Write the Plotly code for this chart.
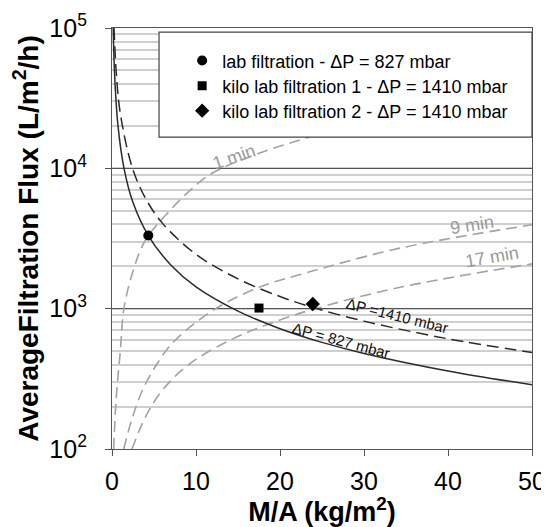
import plotly.graph_objects as go

# ---- data ----
dp827_x = [0.144, 0.3, 0.7, 1.43, 2.5, 4.32, 7.0, 10.0, 15.0, 20.0, 25.0, 30.0, 40.0, 50.0]
dp827_y = [100000, 48000, 20500, 10000, 5700, 3320, 2050, 1430, 960, 720, 575, 480, 360, 287]

dp1410_x = [0.24, 0.5, 1.0, 2.44, 4.0, 6.0, 10.0, 15.0, 20.0, 23.9, 30.0, 40.0, 50.0]
dp1410_y = [100000, 49000, 24400, 10000, 6100, 4070, 2440, 1630, 1220, 1020, 815, 610, 488]

min1_x = [0.2, 0.48, 0.99, 1.42, 2.5, 3.96, 6.75, 9.5, 12.0, 17.5, 21.0, 30.0, 50.0]
min1_y = [100, 220, 500, 1000, 1850, 3060, 4900, 7150, 9300, 12800, 15000, 21500, 36000]

min9_x = [1.39, 2.4, 3.6, 5.2, 7.2, 12.0, 17.5, 22.4, 34.3, 50.0]
min9_y = [100, 165, 260, 390, 570, 970, 1420, 1750, 2700, 3960]

min17_x = [2.38, 3.96, 5.95, 9.13, 13.9, 17.86, 23.4, 34.3, 50.0]
min17_y = [100, 168, 260, 400, 590, 745, 968, 1420, 2085]

lab_x, lab_y = [4.32], [3320]
kilo1_x, kilo1_y = [17.5], [1010]
kilo2_x, kilo2_y = [23.9], [1080]

legend_names = ["lab filtration - \u0394P = 827 mbar",
                "kilo lab filtration 1 - \u0394P = 1410 mbar",
                "kilo lab filtration 2 - \u0394P = 1410 mbar"]

FONT = "Liberation Sans, Arial, sans-serif"
GRAY = "#a3a3a3"
DARK = "#2b2b2b"

fig = go.Figure()

for xs, ys in [(min1_x, min1_y), (min9_x, min9_y), (min17_x, min17_y)]:
    fig.add_trace(go.Scatter(x=xs, y=ys, mode="lines", showlegend=False,
                             line=dict(color=GRAY, width=1.6, dash="11px,6px", shape="spline"),
                             hoverinfo="skip"))

fig.add_trace(go.Scatter(x=dp827_x, y=dp827_y, mode="lines", showlegend=False,
                         line=dict(color=DARK, width=1.5, shape="spline")))
fig.add_trace(go.Scatter(x=dp1410_x, y=dp1410_y, mode="lines", showlegend=False,
                         line=dict(color=DARK, width=1.5, dash="12px,6px", shape="spline")))

fig.add_trace(go.Scatter(x=lab_x, y=lab_y, mode="markers", name=legend_names[0], legend="legend",
                         marker=dict(symbol="circle", size=10, color="black")))
fig.add_trace(go.Scatter(x=kilo1_x, y=kilo1_y, mode="markers", name=legend_names[1], legend="legend2",
                         marker=dict(symbol="square", size=9, color="black")))
fig.add_trace(go.Scatter(x=kilo2_x, y=kilo2_y, mode="markers", name=legend_names[2], legend="legend3",
                         marker=dict(symbol="diamond", size=11, color="black")))

# legend frame
fig.add_shape(type="rect", xref="paper", yref="paper", x0=0.112, x1=1.0, y0=0.741, y1=0.990,
              fillcolor="white", line=dict(color="#444", width=1.2), layer="above")

annots = [
    dict(text="1 min", x=14.5, y=4.081, textangle=-19, color="#9a9a9a", size=18),
    dict(text="9 min", x=42.8, y=3.593, textangle=-9, color="#9a9a9a", size=18),
    dict(text="17 min", x=45.2, y=3.366, textangle=-10, color="#9a9a9a", size=18),
    dict(text="\u0394P =1410 mbar", x=33.9, y=2.95, textangle=14, color="#111", size=15),
    dict(text="\u0394P = 827 mbar", x=27.3, y=2.771, textangle=15, color="#111", size=15),
]
for a in annots:
    fig.add_annotation(x=a["x"], y=a["y"], text=a["text"], showarrow=False,
                       textangle=a["textangle"], font=dict(family=FONT, size=a["size"], color=a["color"]))


def leg(yc):
    return dict(x=0.167, y=yc, xanchor="left", yanchor="middle",
                bgcolor="rgba(0,0,0,0)", borderwidth=0,
                font=dict(family=FONT, size=18, color="black"))


# the page body adds an 8px offset, so the figure is 8px smaller than the window
fig.update_layout(
    width=541, height=519,
    margin=dict(l=104, r=17, t=20, b=78, autoexpand=False),
    paper_bgcolor="white", plot_bgcolor="white",
    font=dict(family=FONT, color="black"),
    showlegend=True,
    legend=leg(0.922), legend2=leg(0.862), legend3=leg(0.803),
    xaxis=dict(range=[0, 50], tickvals=[0, 10, 20, 30, 40, 50], automargin=False,
               showgrid=False, zeroline=False, showline=True, linecolor="#555", linewidth=1.2,
               mirror=True, ticks="outside", ticklen=6, tickcolor="#555",
               ticklabelstandoff=4,
               tickfont=dict(family=FONT, size=25, color="black"),
               title=dict(text="<b>M/A (kg/m<sup>2</sup>)</b>", font=dict(family=FONT, size=27),
                          standoff=0)),
    yaxis=dict(type="log", range=[2, 5], automargin=False,
               tickvals=[100, 1000, 10000, 100000],
               ticktext=["10<sup>2</sup>", "10<sup>3</sup>", "10<sup>4</sup>", "10<sup>5</sup>"],
               showgrid=True, gridcolor="#555", gridwidth=1.2,
               minor=dict(dtick="D1", showgrid=True, gridcolor="#cfcfcf", gridwidth=1.5, ticks=""),
               zeroline=False, showline=True, linecolor="#555", linewidth=1.2, mirror=True,
               ticks="outside", ticklen=6, tickcolor="#555",
               ticklabelstandoff=13,
               tickfont=dict(family=FONT, size=25, color="black"),
               title=dict(text="<b>AverageFiltration Flux (L/m<sup>2</sup>/h)</b>",
                          font=dict(family=FONT, size=28), standoff=2)),
)

fig.write_html("out.html")
